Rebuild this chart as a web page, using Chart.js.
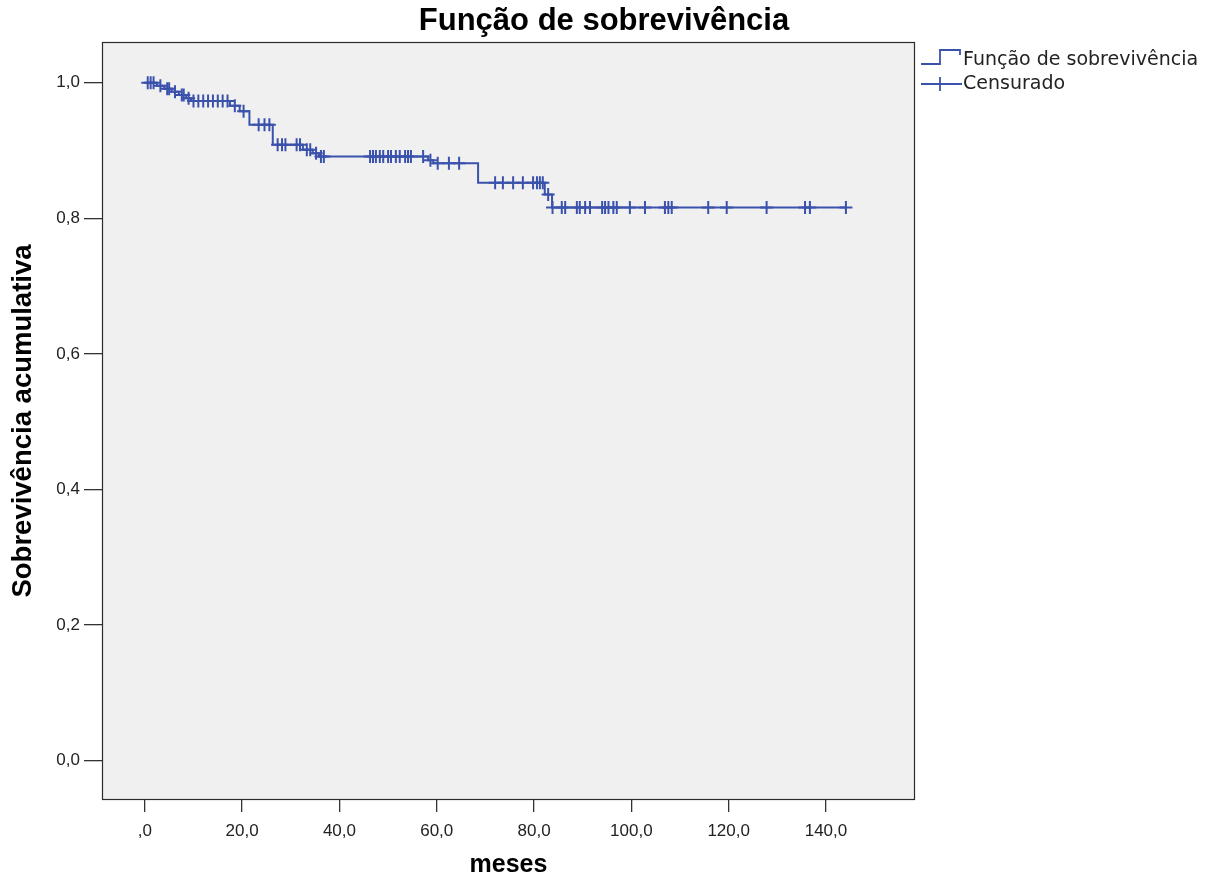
<!DOCTYPE html>
<html><head><meta charset="utf-8">
<script src="https://cdn.jsdelivr.net/npm/chart.js@4.4.1/dist/chart.umd.min.js"></script>
<style>html,body{margin:0;padding:0;background:#fff;} #wrap{width:1219px;height:881px;position:relative;}</style>
</head><body><div id="wrap"><canvas id="c" width="1219" height="881"></canvas></div>
<script>
const chartTitle = 'Função de sobrevivência';
const xAxisTitle = 'meses';
const yAxisTitle = 'Sobrevivência acumulativa';
const legendLabels = ['Função de sobrevivência', 'Censurado'];

// Kaplan-Meier step points (time in months, cumulative survival after the event)
const stepTimes    = [0, 2.5, 4.0, 5.5, 7.0, 8.5, 9.5, 17.5, 19.5, 21.5, 26.3, 32.5, 34.5, 35.8, 58.2, 59.3, 68.5, 82.2, 83.7, 144.1];
const stepSurvival = [1.0, 0.9955, 0.991, 0.9865, 0.982, 0.977, 0.973, 0.966, 0.958, 0.938, 0.9085, 0.901, 0.896, 0.891, 0.8855, 0.881, 0.8525, 0.835, 0.816, 0.816];

// Censored observations
const censorTimes = [0.6, 1.2, 1.8, 3.2, 4.6, 5.0, 6.2, 7.6, 8.0, 9.0,
  10.0, 11.0, 12.0, 13.0, 14.0, 15.0, 16.0, 17.0, 18.5, 20.3,
  23.4, 24.6, 25.6, 27.3, 28.2, 28.9, 31.2, 31.9, 33.3, 34.0, 35.2,
  36.2, 36.8, 46.3, 46.9, 47.5, 48.3, 49.0, 50.0, 50.6, 51.6, 52.4, 53.5, 54.1, 54.7, 57.2,
  58.7, 60.2, 62.5, 64.6,
  72.0, 73.6, 75.7, 77.7, 79.8, 80.6, 81.2, 81.8, 82.9,
  83.8, 85.7, 86.4, 88.8, 89.4, 90.5, 91.5, 94.0, 94.6, 95.3, 96.3, 97.0, 99.7, 102.8,
  106.9, 107.6, 108.3, 115.8, 119.6, 127.8, 135.7, 136.7, 144.1];
const censorSurvival = [1.0, 1.0, 1.0, 0.9955, 0.991, 0.991, 0.9865, 0.982, 0.982, 0.977,
  0.973, 0.973, 0.973, 0.973, 0.973, 0.973, 0.973, 0.973, 0.966, 0.958,
  0.938, 0.938, 0.938, 0.9085, 0.9085, 0.9085, 0.9085, 0.9085, 0.901, 0.901, 0.896,
  0.891, 0.891, 0.891, 0.891, 0.891, 0.891, 0.891, 0.891, 0.891, 0.891, 0.891, 0.891, 0.891, 0.891, 0.891,
  0.8855, 0.881, 0.881, 0.881,
  0.8525, 0.8525, 0.8525, 0.8525, 0.8525, 0.8525, 0.8525, 0.8525, 0.835,
  0.816, 0.816, 0.816, 0.816, 0.816, 0.816, 0.816, 0.816, 0.816, 0.816, 0.816, 0.816, 0.816, 0.816,
  0.816, 0.816, 0.816, 0.816, 0.816, 0.816, 0.816, 0.816, 0.816];

const xTickValues = [0, 20, 40, 60, 80, 100, 120, 140];
const xTickLabels = [',0', '20,0', '40,0', '60,0', '80,0', '100,0', '120,0', '140,0'];
const yTickValues = [0, 0.2, 0.4, 0.6, 0.8, 1.0];
const yTickLabels = ['0,0', '0,2', '0,4', '0,6', '0,8', '1,0'];

const lineColor = '#3A52AC';
const tickFont = {family: 'Liberation Sans', size: 17};

function labelFor(values, labels, v) {
  let best = 0;
  for (let i = 1; i < values.length; i++) if (Math.abs(values[i] - v) < Math.abs(values[best] - v)) best = i;
  return labels[best];
}

const framePlugin = {
  id: 'frame',
  beforeDraw(chart) {
    const {ctx, chartArea: a} = chart;
    ctx.save();
    ctx.fillStyle = '#F0F0F0';
    ctx.fillRect(a.left, a.top, a.right - a.left, a.bottom - a.top);
    ctx.restore();
  },
  afterDraw(chart) {
    const {ctx, chartArea: a} = chart;
    ctx.save();
    ctx.strokeStyle = '#2b2b2b';
    ctx.lineWidth = 1.2;
    ctx.strokeRect(a.left + 0.5, a.top + 0.5, a.right - a.left - 1, a.bottom - a.top - 1);
    // title
    ctx.fillStyle = '#000';
    ctx.font = 'bold 31px "Liberation Sans", Arial, sans-serif';
    ctx.textAlign = 'center';
    ctx.textBaseline = 'middle';
    ctx.fillText(chartTitle, 604, 21);
    // legend
    const lx = a.right + 3;
    ctx.strokeStyle = lineColor;
    ctx.lineWidth = 1.8;
    ctx.beginPath();
    ctx.moveTo(lx + 3, 64); ctx.lineTo(lx + 22, 64); ctx.lineTo(lx + 22, 50);
    ctx.lineTo(lx + 42, 50); ctx.lineTo(lx + 42, 55);
    ctx.stroke();
    ctx.beginPath();
    ctx.moveTo(lx + 3, 84); ctx.lineTo(lx + 44, 84);
    ctx.moveTo(lx + 22, 77); ctx.lineTo(lx + 22, 91);
    ctx.stroke();
    ctx.fillStyle = '#222';
    ctx.font = '19px "DejaVu Sans", sans-serif';
    ctx.textAlign = 'left';
    ctx.fillText(legendLabels[0], lx + 45, 60);
    ctx.fillText(legendLabels[1], lx + 45, 84);
    ctx.restore();
  }
};

new Chart(document.getElementById('c'), {
  type: 'scatter',
  data: {
    datasets: [
      {
        label: legendLabels[0],
        data: stepTimes.map((t, i) => ({x: t, y: stepSurvival[i]})),
        showLine: true,
        stepped: true,
        borderColor: lineColor,
        borderWidth: 2,
        pointRadius: 0,
        fill: false
      },
      {
        label: legendLabels[1],
        data: censorTimes.map((t, i) => ({x: t, y: censorSurvival[i]})),
        showLine: false,
        pointStyle: 'cross',
        pointRadius: 6.5,
        borderColor: lineColor,
        backgroundColor: lineColor,
        borderWidth: 2
      }
    ]
  },
  options: {
    responsive: false,
    animation: false,
    devicePixelRatio: 1,
    layout: {padding: {left: 0, top: 42, right: 304, bottom: 0}},
    plugins: {legend: {display: false}, title: {display: false}, tooltip: {enabled: false}},
    scales: {
      x: {
        type: 'linear', min: -8.8, max: 158.3,
        afterBuildTicks: s => { s.ticks = xTickValues.map(v => ({value: v})); },
        afterFit: s => { s.height = 81; },
        ticks: {font: tickFont, color: '#222', padding: 9, maxRotation: 0, autoSkip: false,
          callback: v => labelFor(xTickValues, xTickLabels, v)},
        grid: {drawOnChartArea: false, drawTicks: true, tickLength: 12, color: '#333', lineWidth: 1.3},
        border: {display: false},
        title: {display: true, text: xAxisTitle, color: '#000',
          font: {family: 'Liberation Sans', size: 25, weight: 'bold'}, padding: {top: 0, bottom: 1}}
      },
      y: {
        type: 'linear', min: -0.058, max: 1.06,
        afterBuildTicks: s => { s.ticks = yTickValues.map(v => ({value: v})); },
        afterFit: s => { s.width = 102; },
        ticks: {font: tickFont, color: '#222', padding: 4, autoSkip: false,
          callback: v => labelFor(yTickValues, yTickLabels, v)},
        grid: {drawOnChartArea: false, drawTicks: true, tickLength: 18, color: '#333', lineWidth: 1.3},
        border: {display: false},
        title: {display: true, text: yAxisTitle, color: '#000',
          font: {family: 'Liberation Sans', size: 27.5, weight: 'bold'}, padding: {top: 7, bottom: 0}}
      }
    }
  },
  plugins: [framePlugin]
});
</script></body></html>
